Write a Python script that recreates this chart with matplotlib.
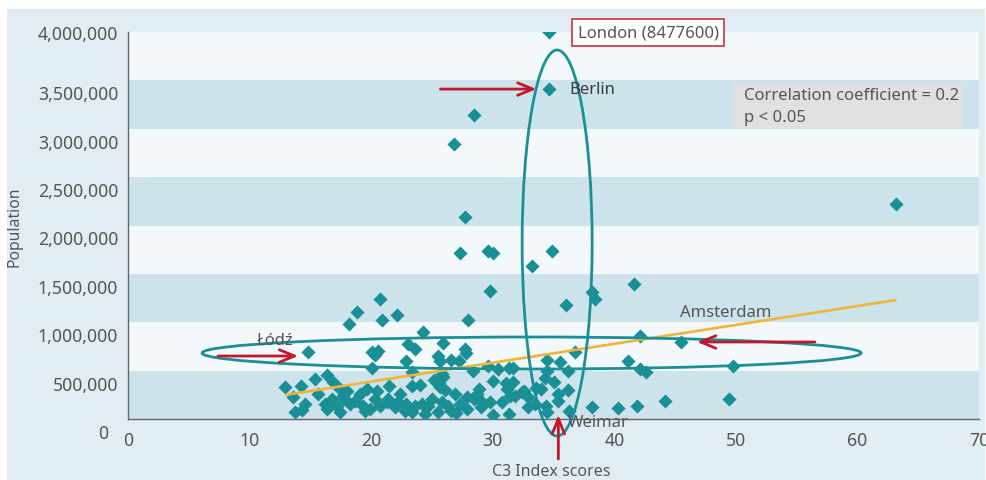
import matplotlib
matplotlib.use('Agg')
import matplotlib.pyplot as plt
from matplotlib.patches import Ellipse, Rectangle
from matplotlib.ticker import FuncFormatter
import matplotlib.transforms as mtransforms

plt.rcParams['font.family'] = ['Noto Sans', 'DejaVu Sans']

# C3 index score vs city population (London capped at 4,000,000)
c3_scores = [34.6, 34.6, 28.5, 26.8, 27.7, 63.2, 27.3, 29.6, 30.0, 34.9,
             33.2, 29.8, 38.2, 38.4, 41.6, 36.0, 20.7, 18.8, 20.9, 18.2,
             22.1, 28.0, 14.8, 24.3, 23.0, 23.6, 25.9, 27.7, 27.8, 20.1,
             20.1, 22.9, 25.5, 25.7, 26.6, 27.2, 29.6, 30.4, 23.4, 25.8,
             25.9, 28.4, 16.4, 16.9, 12.9, 14.2, 17.4, 18.0, 19.7, 20.5,
             13.6, 14.6, 13.7, 14.3, 17.2, 17.4, 18.3, 18.7, 19.3, 19.9,
             20.7, 21.3, 16.8, 16.4, 21.5, 23.4, 24.0, 25.7, 26.1, 30.0,
             28.9, 27.9, 28.5, 29.1, 21.4, 22.2, 22.9, 23.6, 24.2, 24.7,
             25.8, 26.3, 22.0, 23.4, 24.4, 25.5, 26.6, 27.9, 30.0, 30.8,
             36.8, 34.5, 35.5, 31.3, 31.7, 34.5, 36.2, 34.3, 35.0, 31.7,
             31.2, 31.4, 31.8, 32.6, 32.9, 36.2, 35.4, 32.9, 34.4, 31.3,
             34.5, 36.3, 38.2, 40.3, 42.1, 45.5, 41.1, 42.1, 42.6, 49.8,
             44.2, 41.9, 49.4, 15.6, 16.2, 17.8, 19.1, 19.5, 20.3, 22.4,
             22.8, 25.0, 26.9, 27.3, 28.7, 29.8, 32.4, 33.5, 34.0, 35.4,
             15.4, 20.3, 20.6, 25.2, 25.6, 29.0, 31.1, 33.6, 17.7, 27.0]
population = [4000000, 3410000, 3142000, 2842000, 2088000, 2222000, 1716000, 1736000, 1716000, 1736000,
              1581000, 1323000, 1313000, 1240000, 1395000, 1178000, 1240000, 1106000, 1023000, 982000,
              1075000, 1023000, 693000, 899000, 775000, 724000, 786000, 724000, 682000, 693000,
              527000, 600000, 651000, 600000, 610000, 600000, 548000, 517000, 486000, 465000,
              434000, 496000, 455000, 382000, 331000, 341000, 310000, 289000, 310000, 289000,
              227000, 155000, 72000, 93000, 134000, 72000, 155000, 186000, 134000, 103000,
              134000, 176000, 207000, 103000, 341000, 341000, 351000, 331000, 300000, 393000,
              310000, 227000, 207000, 176000, 207000, 176000, 155000, 134000, 155000, 134000,
              176000, 134000, 124000, 72000, 52000, 72000, 83000, 103000, 41000, 176000,
              693000, 610000, 589000, 527000, 527000, 496000, 496000, 424000, 382000, 382000,
              310000, 238000, 238000, 289000, 227000, 300000, 186000, 124000, 134000, 52000,
              72000, 83000, 124000, 114000, 858000, 796000, 600000, 517000, 486000, 548000,
              186000, 134000, 207000, 258000, 155000, 207000, 258000, 83000, 207000, 258000,
              83000, 207000, 258000, 155000, 258000, 176000, 279000, 155000, 310000, 258000,
              413000, 660000, 700000, 403000, 372000, 124000, 372000, 320000, 238000, 62000]

trend_x = [12.9, 63.2]
trend_y = [248000, 1230000]

x_ticks = [0, 10, 20, 30, 40, 50, 60, 70]
y_ticks = [0, 500000, 1000000, 1500000, 2000000, 2500000, 3000000, 3500000, 4000000]

TEAL = '#1b8f96'
RED = '#c0182c'
GREY_TXT = '#555555'


def plot_c3(filename='out.png'):
    fig = plt.figure(figsize=(9.87, 4.81), dpi=100, facecolor='white')
    # outer light blue panel
    fig.add_artist(Rectangle((7 / 987, 0), 978 / 987, 471 / 481, transform=fig.transFigure,
                             facecolor='#e1edf3', edgecolor='none', zorder=-10))
    ax = fig.add_axes([128 / 987, 61 / 481, 851 / 987, 387 / 481])
    ax.set_facecolor('#f3f8fb')
    ax.set_xlim(0, 70)
    ax.set_ylim(0, 4000000)

    for i, lo in enumerate(y_ticks[:-1]):
        if i % 2 == 0:
            ax.axhspan(lo, y_ticks[i + 1], color='#cde3eb', lw=0, zorder=0)

    ax.scatter(c3_scores, population, marker='D', s=52, color=TEAL, lw=0, zorder=3)
    ax.plot(trend_x, trend_y, color='#f0b43a', lw=1.9, zorder=4, solid_capstyle='butt')

    ax.add_patch(Ellipse((35.3, 1819000), 5.76, 3990000, fill=False, ec=TEAL, lw=2.0,
                         clip_on=False, zorder=5))
    ax.add_patch(Ellipse((33.2, 682000), 54.2, 331000, fill=False, ec=TEAL, lw=2.0,
                         clip_on=False, zorder=5))

    arrow = dict(arrowstyle='->,head_length=1.1,head_width=0.45', color=RED, lw=2.0,
                 shrinkA=0, shrinkB=0, mutation_scale=10)
    ax.annotate('', xy=(14.0, 651000), xytext=(7.4, 651000), arrowprops=arrow, zorder=6)
    ax.annotate('', xy=(33.6, 3410000), xytext=(25.7, 3410000), arrowprops=arrow, zorder=6)
    ax.annotate('', xy=(46.8, 796000), xytext=(56.5, 796000), arrowprops=arrow, zorder=6)
    ax.annotate('', xy=(35.4, 41000), xytext=(35.4, -413000), arrowprops=arrow, zorder=6,
                annotation_clip=False)

    ax.text(37.0, 3990000, 'London (8477600)', fontsize=12, color=GREY_TXT, va='center', zorder=7,
            bbox=dict(boxstyle='square,pad=0.33', fc='white', ec='#c8323f', lw=1.2))
    ax.text(36.3, 3410000, 'Berlin', fontsize=12, color='#3c3c3c', va='center', zorder=7)
    ax.text(12.1, 816000, 'Łódź', fontsize=12, color=GREY_TXT, va='center', ha='center', zorder=7)
    ax.text(45.4, 1106000, 'Amsterdam', fontsize=12, color=GREY_TXT, va='center', zorder=7)
    ax.text(36.2, -31000, 'Weimar', fontsize=12, color=GREY_TXT, va='center', zorder=7)

    ax.add_patch(Rectangle((49.8, 3008000), 18.8, 475000, fc='#e0e0e0', ec='none', zorder=6))
    ax.text(50.7, 3349000, 'Correlation coefficient = 0.2', fontsize=12, color=GREY_TXT,
            va='center', zorder=7)
    ax.text(50.7, 3121000, 'p < 0.05', fontsize=12, color=GREY_TXT, va='center', zorder=7)

    ax.set_xticks(x_ticks)
    ax.set_yticks(y_ticks)
    ax.yaxis.set_major_formatter(FuncFormatter(lambda v, p: '{:,.0f}'.format(v)))
    ax.tick_params(length=0, labelsize=12.7, colors=GREY_TXT)
    ax.tick_params(axis='y', pad=7)
    ax.tick_params(axis='x', pad=9)
    # y labels sit a bit below their band edges in the original
    ylabels = ax.get_yticklabels()
    for lab in ylabels[:-1]:
        lab.set_transform(lab.get_transform() + mtransforms.ScaledTranslation(0, -12 / 100, fig.dpi_scale_trans))
    ylabels[0].set_transform(ylabels[0].get_transform() + mtransforms.ScaledTranslation(-10 / 100, 0, fig.dpi_scale_trans))

    for side in ['top', 'right']:
        ax.spines[side].set_visible(False)
    for side in ['left', 'bottom']:
        ax.spines[side].set_color('#666666')
        ax.spines[side].set_linewidth(1.0)

    ax.set_xlabel('C3 Index scores', fontsize=11.5, color=GREY_TXT)
    ax.set_ylabel('Population', fontsize=11.3, color=GREY_TXT)
    ax.xaxis.set_label_coords(423 / 851, -44 / 387)
    ax.yaxis.set_label_coords(-106 / 851, 0.5)

    fig.savefig(filename, dpi=100, facecolor=fig.get_facecolor())
    plt.close()


plot_c3()
